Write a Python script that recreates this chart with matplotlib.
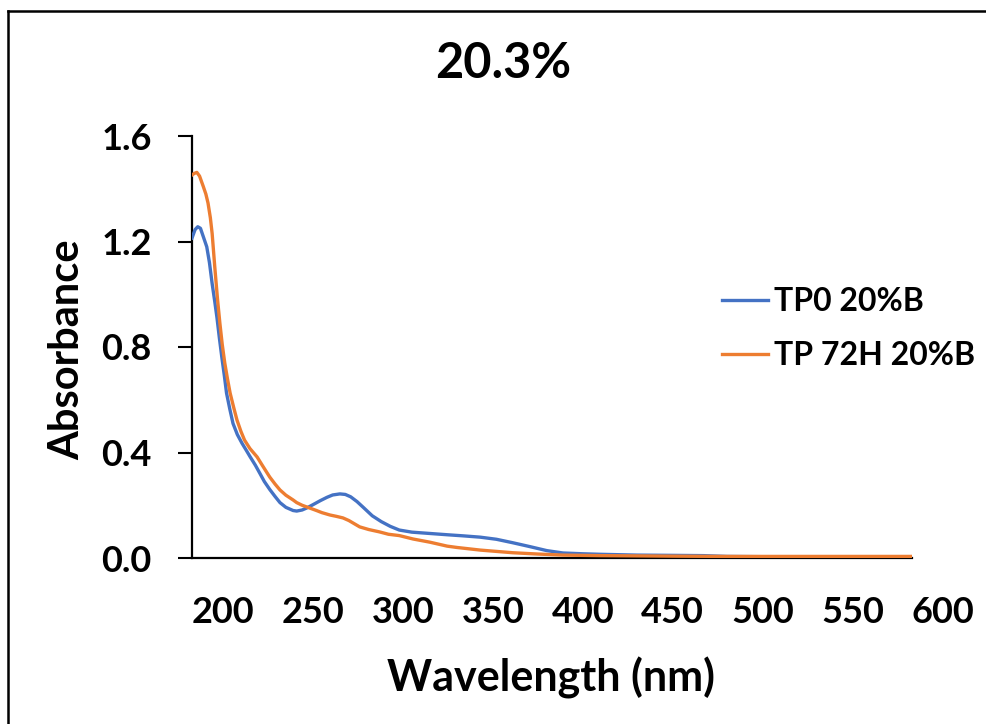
import matplotlib
matplotlib.use("Agg")
import matplotlib.pyplot as plt
from matplotlib.lines import Line2D

plt.rcParams['font.family'] = ['Lato', 'DejaVu Sans']
plt.rcParams['font.weight'] = 'bold'

# UV-Vis absorbance spectra
wl_tp0 = [182.8, 184.5, 186, 187.5, 189, 191, 192.5, 194, 195.5, 196.7, 198, 199.4,
          200.8, 202, 203.8, 205.6, 208, 210.6, 213, 215, 218, 220.6, 223, 226, 229,
          231.7, 235, 239, 241, 244, 246.7, 250, 254, 257.8, 261, 265, 268, 271, 274.5,
          278, 283, 288, 293, 298, 305, 315, 325, 333.5, 343, 352, 361, 370.7, 380, 389,
          400, 410, 430, 450, 467, 480, 500, 520, 540, 555, 565, 575, 583]
abs_tp0 = [1.213, 1.245, 1.256, 1.25, 1.22, 1.18, 1.12, 1.04, 0.97, 0.91, 0.835, 0.76,
           0.69, 0.625, 0.565, 0.51, 0.468, 0.435, 0.408, 0.385, 0.352, 0.32, 0.29, 0.26, 0.233,
           0.21, 0.192, 0.18, 0.178, 0.182, 0.19, 0.202, 0.217, 0.23, 0.239, 0.243, 0.241, 0.232, 0.214,
           0.192, 0.16, 0.138, 0.12, 0.106, 0.098, 0.093, 0.088, 0.084, 0.079, 0.071, 0.058, 0.043, 0.028, 0.019,
           0.016, 0.014, 0.011, 0.010, 0.009, 0.006, 0.005, 0.005, 0.004, 0.003, 0.0, 0.0, 0.002]

wl_tp72 = [182.8, 184, 185.5, 187, 189, 190.5, 191.7, 193, 194, 195.5, 197, 198.3, 199.6,
           201, 202.5, 204, 206, 207.8, 210, 212, 215, 219, 222, 226, 229, 231.7, 235, 239,
           241, 244, 248, 252, 255, 259.5, 263, 266.7, 270, 273, 276, 281, 287, 292, 298,
           305.7, 315, 324.6, 330, 343, 352, 361, 375, 389, 410, 430, 450, 480, 520, 560, 583]
abs_tp72 = [1.452, 1.458, 1.462, 1.448, 1.41, 1.38, 1.346, 1.29, 1.23, 1.1, 0.98, 0.89, 0.81,
            0.74, 0.68, 0.625, 0.57, 0.523, 0.48, 0.447, 0.415, 0.383, 0.35, 0.307, 0.28, 0.258, 0.238, 0.22,
            0.21, 0.2, 0.19, 0.18, 0.172, 0.163, 0.158, 0.152, 0.142, 0.13, 0.118, 0.108, 0.099, 0.09, 0.085,
            0.072, 0.06, 0.045, 0.04, 0.03, 0.025, 0.02, 0.015, 0.011, 0.009, 0.008, 0.007, 0.006, 0.006, 0.006, 0.006]

series_labels = ["TP0 20%B", "TP 72H 20%B"]
x_tick_values = [200, 250, 300, 350, 400, 450, 500, 550, 600]
y_tick_values = [0.0, 0.4, 0.8, 1.2, 1.6]

W, H = 987, 724
fig = plt.figure(figsize=(W / 100, H / 100), dpi=100)
ax = fig.add_axes([192 / W, 1 - 558 / H, (912 - 192) / W, (558 - 136) / H])

ax.plot(wl_tp0, abs_tp0, color="#4472C4", lw=2.4, label=series_labels[0], zorder=3)
ax.plot(wl_tp72, abs_tp72, color="#ED7D31", lw=2.4, label=series_labels[1], zorder=4)

ax.set_xlim(182.8, 583)
ax.set_ylim(0, 1.6)

for s in ["top", "right"]:
    ax.spines[s].set_visible(False)
for s in ["left", "bottom"]:
    ax.spines[s].set_linewidth(1.6)
    ax.spines[s].set_color("black")

ax.set_yticks(y_tick_values)
ax.set_yticklabels([f"{v:.1f}" for v in y_tick_values])
ax.tick_params(axis="y", length=10, width=1.5, pad=19, labelsize=26, direction="out")

# category-style x labels, the last one sits past the plotted range
ax.set_xticks([])
for v in x_tick_values:
    ax.text(v, -0.205, str(v), transform=ax.transData, ha="center", va="center",
            fontsize=26, fontweight="bold", clip_on=False)

ax.set_ylabel("Absorbance", fontsize=30, fontweight="bold")
ax.yaxis.set_label_coords((86 - 192) / 720, (558 - 350) / 422)
fig.text(551 / W, 1 - 678 / H, "Wavelength (nm)", ha="center", va="center",
         fontsize=31, fontweight="bold")
fig.text(503 / W, 1 - 63 / H, "20.3%", ha="center", va="center",
         fontsize=35, fontweight="bold")

ax.legend(loc="upper left", bbox_to_anchor=(722 / W, 1 - 287 / H),
          bbox_transform=fig.transFigure, frameon=False, fontsize=23,
          handlelength=1.44, handletextpad=0.2, labelspacing=0.78,
          borderaxespad=0, borderpad=0)

# outer chart border (left and top edges)
fig.add_artist(Line2D([8.5 / W, 8.5 / W], [0, 1 - 11 / H], color="black", lw=1.8,
                      transform=fig.transFigure))
fig.add_artist(Line2D([8.5 / W, 1], [1 - 11 / H, 1 - 11 / H], color="black", lw=1.8,
                      transform=fig.transFigure))

fig.savefig("out.png", dpi=100, facecolor="white")
